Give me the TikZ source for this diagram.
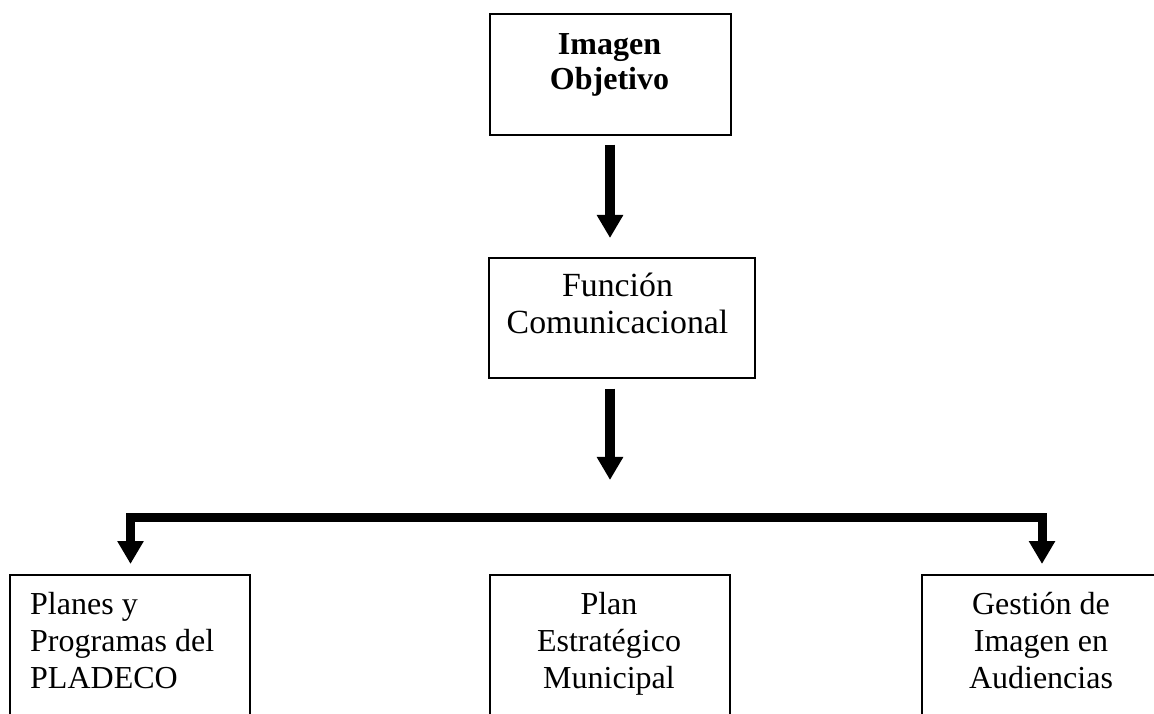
\documentclass[tikz,border=0pt]{standalone}
\usepackage{fontspec}
\setmainfont{Liberation Serif}
\usetikzlibrary{arrows.meta}
\begin{document}
\begin{tikzpicture}[x=1pt,y=1pt,
  box/.style={draw=black,line width=1.6pt,rectangle,inner sep=0pt,anchor=north west},
  txt/.style={font=\fontsize{32}{37}\selectfont,inner sep=0pt,anchor=base},
  arr/.style={line width=10pt,-{Triangle[width=25pt,length=23pt]}},
  barr/.style={line width=9pt,miter limit=10,{Triangle[width=25pt,length=23pt]}-{Triangle[width=25pt,length=23pt]}}]
\clip (0,0) rectangle (1154,713);
\fill[white] (0,0) rectangle (1154,713);
% boxes
\node[box,minimum width=241pt,minimum height=121pt] (top) at (489,700) {};
\node[box,minimum width=266pt,minimum height=120pt] (mid) at (488,456) {};
\node[box,minimum width=240pt,minimum height=180pt] (left) at (9,139) {};
\node[box,minimum width=240pt,minimum height=180pt] (center) at (489,139) {};
\node[box,minimum width=240pt,minimum height=180pt] (right) at (921,139) {};
% texts (anchored at the baseline of their last line)
\node[txt,align=center,font=\fontsize{32}{35}\selectfont] (ttop) at (609.5,623) {\bfseries Imagen\\\bfseries Objetivo};
\node[txt,align=center,font=\fontsize{33.8}{37}\selectfont] (tmid) at (617.5,379) {Función\\Comunicacional};
\node[txt,align=left,anchor=base west] (tleft) at (30,25) {Planes y\\Programas del\\PLADECO};
\node[txt,align=center] (tcenter) at (609,25) {Plan\\Estratégico\\Municipal};
\node[txt,align=center] (tright) at (1041,25) {Gestión de\\Imagen en\\Audiencias};
% connectors
\coordinate (split) at (610,233);
\coordinate (barL) at (130.5,196);
\coordinate (barR) at (1042,196);
\draw[arr,shorten <=9pt,shorten >=19pt] (split |- top.south) -- (split |- mid.north);
\draw[arr,shorten <=10pt] (split |- mid.south) -- (split);
\draw[barr,shorten <=10pt,shorten >=10pt] (barL |- left.north) -- (barL) -- (barR) -- (barR |- right.north);
\end{tikzpicture}
\end{document}
